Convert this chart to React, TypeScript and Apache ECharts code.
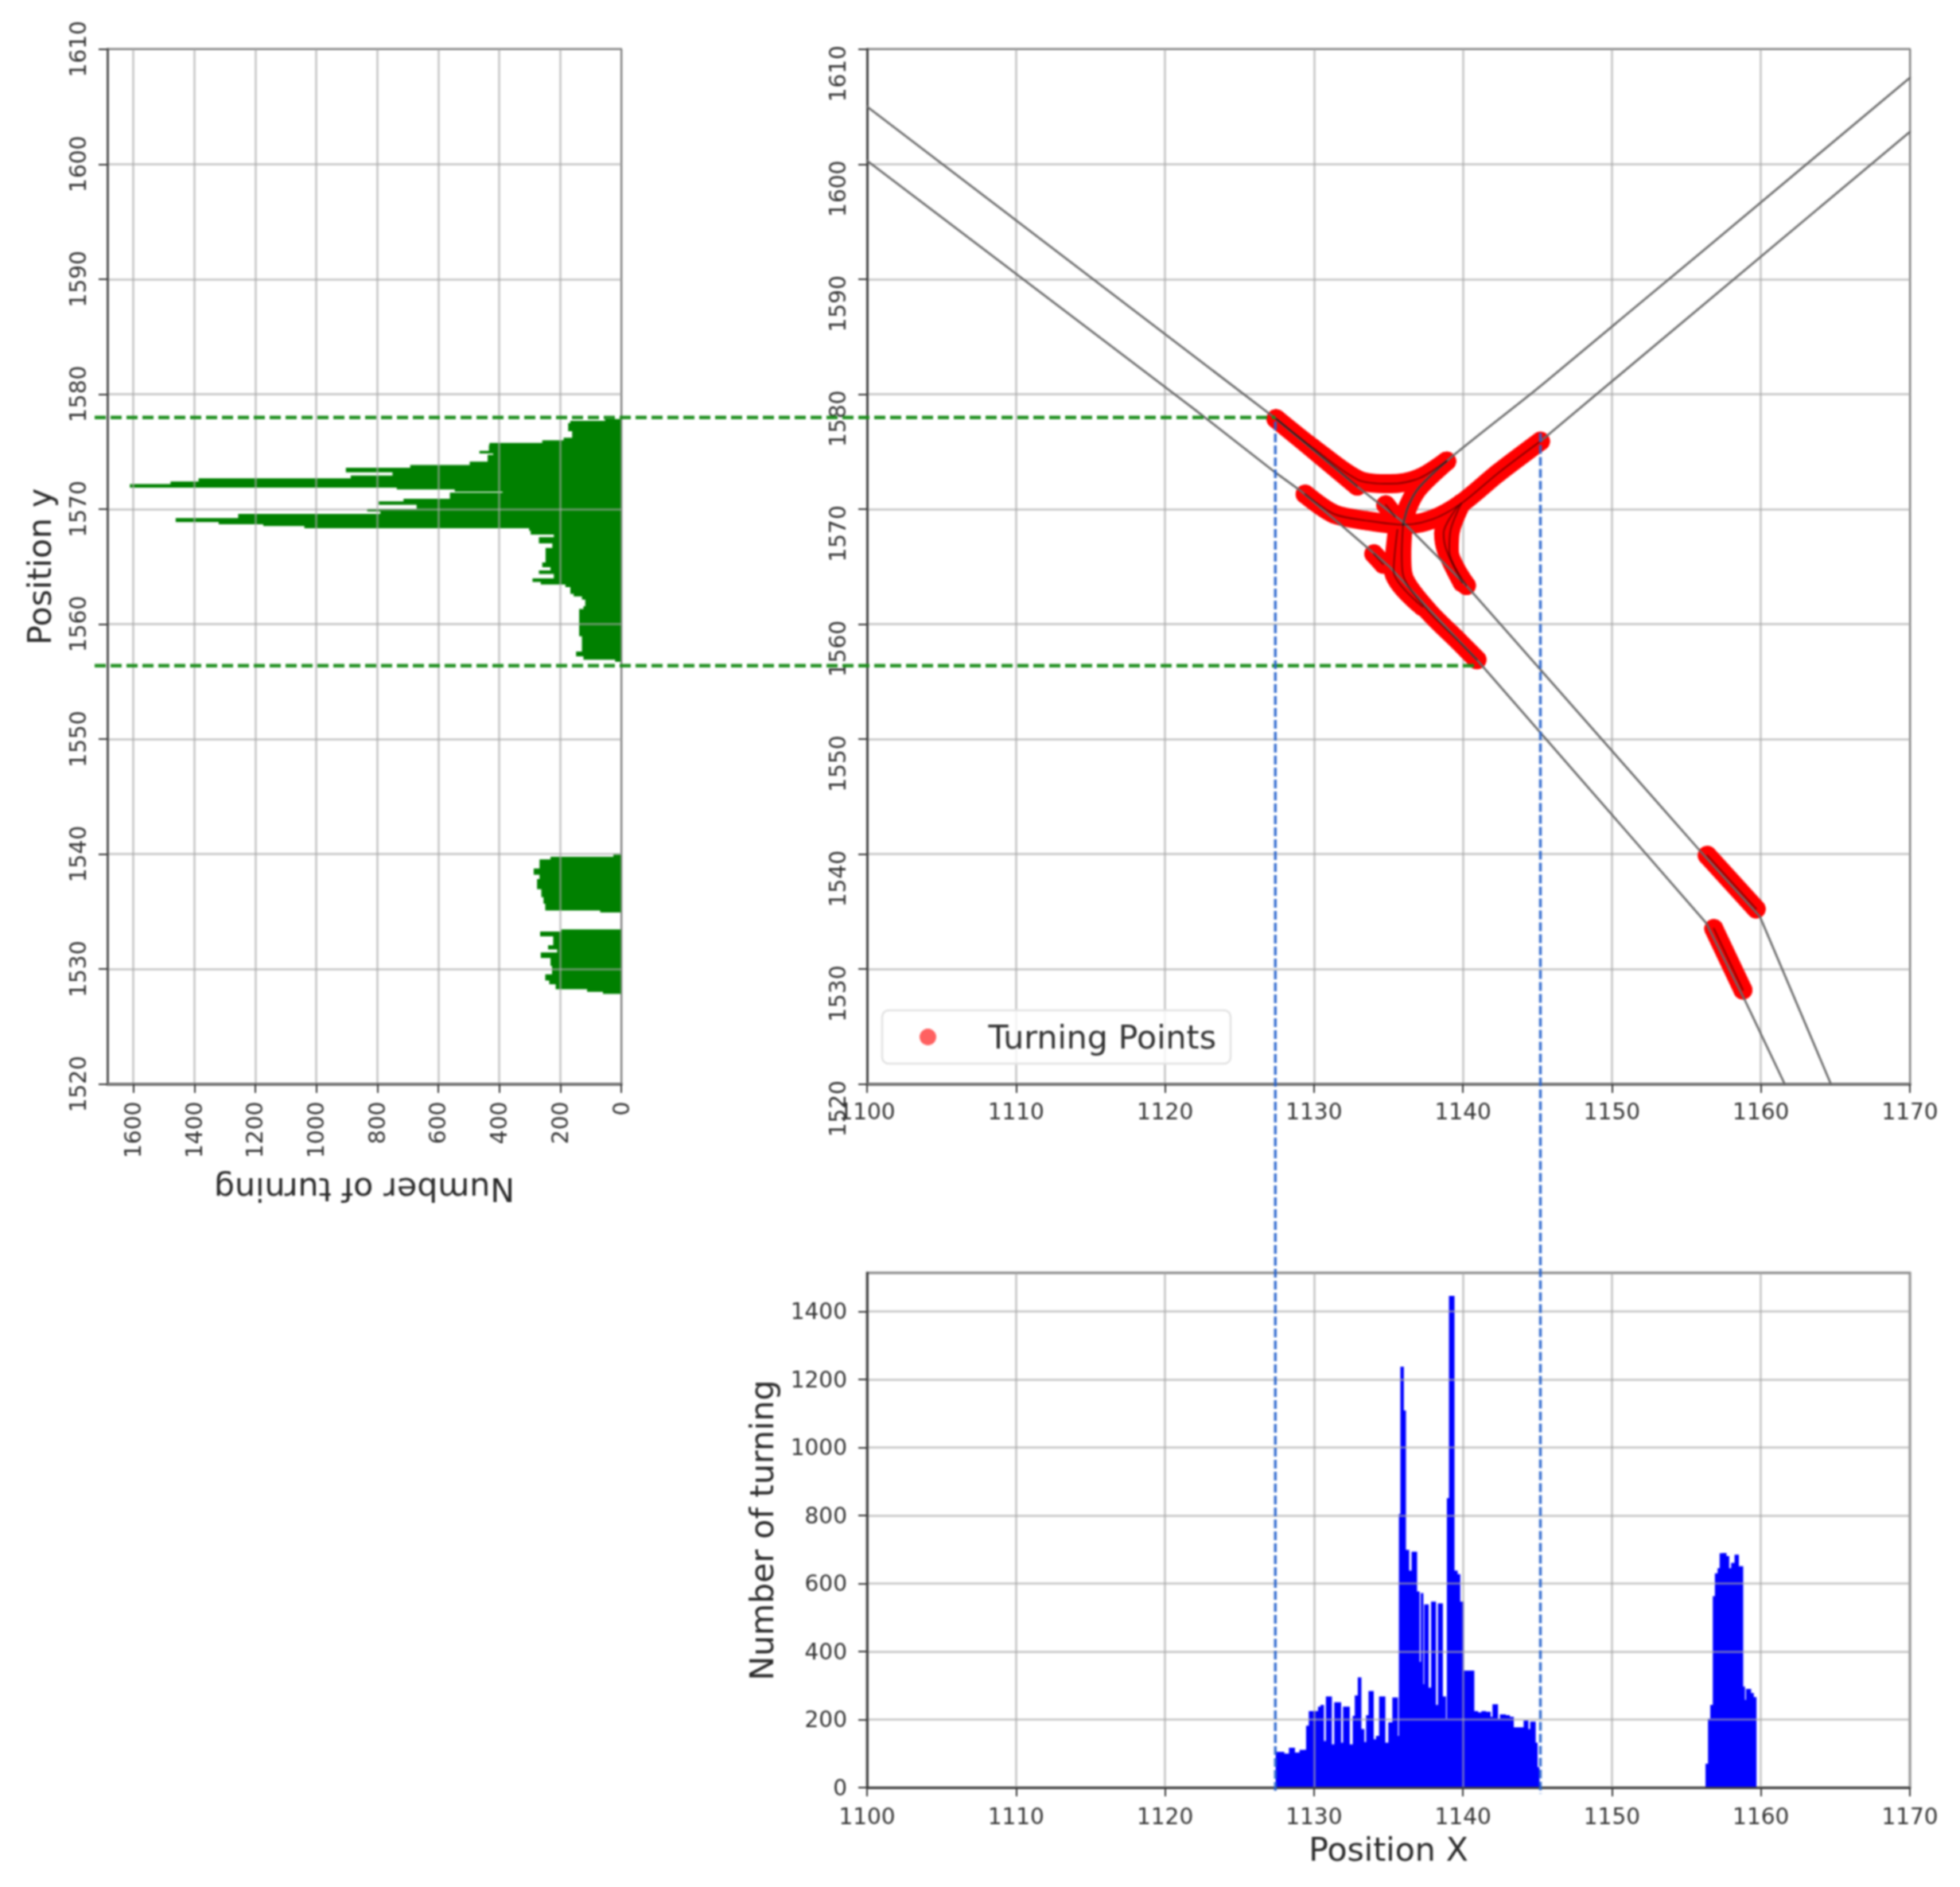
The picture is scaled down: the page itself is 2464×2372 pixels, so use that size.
import React, { useEffect, useRef } from "react";
import * as echarts from "echarts";

const FONT = "DejaVu Sans";

// ---- histogram along X: [bin start, count]; a bin runs to the next start
const blueHistWest: [number, number][] = [
  [1127.43,105],[1127.96,100],[1128.32,117],[1128.67,103],[1129.03,111],[1129.38,111],[1129.47,182],[1129.65,225],[1130.0,225],[1130.27,238],[1130.44,243],[1130.62,137],[1130.8,268],[1131.15,127],[1131.36,251],[1131.77,132],[1131.95,238],[1132.35,127],[1132.6,211],[1132.74,271],[1132.94,324],[1133.13,172],[1133.33,134],[1133.5,213],[1133.66,284],[1133.96,142],[1134.16,152],[1134.37,268],[1134.74,132],[1134.99,192],[1135.26,265],[1135.58,152],[1135.7,805],[1135.8,1238],[1135.98,1109],[1136.12,699],[1136.34,638],[1136.55,694],[1136.87,577],[1137.04,370],[1137.17,572],[1137.29,304],[1137.4,539],[1137.65,294],[1137.86,547],[1138.14,243],[1138.32,542],[1138.6,268],[1138.81,203],[1138.92,851],[1139.06,1446],[1139.38,638],[1139.59,628],[1139.77,547],[1140.0,344],[1140.71,225],[1140.97,221],[1141.24,225],[1141.5,223],[1141.81,208],[1141.98,245],[1142.3,203],[1142.48,215],[1142.83,213],[1143.1,208],[1143.36,177],[1144.07,197],[1144.34,172],[1144.51,194],[1144.83,132],[1144.96,60],[1145.08,10],[1145.17,0],
];
const blueHistEast: [number, number][] = [
  [1156.28,70],[1156.45,203],[1156.6,243],[1156.77,563],[1156.91,630],[1157.09,645],[1157.23,689],[1157.41,690],[1157.64,681],[1157.82,645],[1158.0,661],[1158.23,685],[1158.47,651],[1158.76,297],[1158.88,258],[1159.0,290],[1159.29,278],[1159.47,266],[1159.65,0],
];

// ---- histogram along Y: [bin top, count]; a bin runs down to the next entry
const greenHistNorth: [number, number][] = [
  [1577.83,53],[1577.67,167],[1577.48,174],[1576.84,161],[1576.21,189],[1575.98,259],[1575.75,432],[1575.57,434],[1575.06,465],[1574.9,420],[1574.71,438],[1574.13,497],[1573.83,692],[1573.6,903],[1573.26,750],[1572.91,887],[1572.68,1386],[1572.4,1478],[1572.17,1611],[1571.94,736],[1571.78,546],[1571.59,389],[1571.43,562],[1570.9,714],[1570.67,795],[1570.44,671],[1570.02,833],[1569.86,790],[1569.58,1256],[1569.21,1461],[1568.94,1320],[1568.75,1174],[1568.59,1039],[1568.41,302],[1568.18,297],[1567.85,221],[1567.55,270],[1567.09,226],[1566.63,248],[1565.36,259],[1565.01,232],[1564.67,270],[1564.43,221],[1563.97,291],[1563.74,264],[1563.51,183],[1563.28,167],[1562.7,156],[1562.47,129],[1562.19,118],[1561.55,124],[1561.32,138],[1559.01,129],[1557.62,148],[1557.27,124],[1556.97,20],[1556.79,0],
];
const greenHistMiddle: [number, number][] = [
  [1540.0,26],[1539.77,232],[1539.54,268],[1538.74,287],[1538.28,268],[1537.82,276],[1537.01,262],[1536.32,255],[1535.75,249],[1535.17,69],[1534.99,0],
];
const greenHistSouth: [number, number][] = [
  [1533.45,197],[1533.26,266],[1532.92,223],[1532.07,240],[1531.77,210],[1531.45,264],[1531.03,232],[1530.34,227],[1529.54,249],[1529.08,236],[1528.74,215],[1528.32,112],[1528.09,60],[1527.91,0],
];

// ---- road centre lines
const roadA: [number, number][] = [[1100,1605],[1127.4,1577.9],[1132.96,1571.9],[1135.98,1568.87],[1140.23,1563.35],[1155.9,1540.3],[1159.93,1534.57],[1164.7,1520]];
const roadB: [number, number][] = [[1100,1600.3],[1122,1578.65],[1127.46,1573.13],[1129.06,1571.63],[1131.9,1568.53],[1135.09,1564.96],[1137.57,1561.5],[1140.94,1556.9],[1156.33,1534],[1158.93,1527.28],[1161.6,1520]];
const roadC: [number, number][] = [[1170,1607.5],[1145.55,1581.07],[1138.9,1574.17],[1137.04,1571.86],[1136.33,1570.25],[1135.98,1568.64]];
const roadD: [number, number][] = [[1170,1602.8],[1145.2,1575.9]];

// ---- turning-point tracks
const tracks: [number, number][][] = [
  [[1127.46,1577.85],[1129.95,1575.3],[1132.96,1572.55],[1135.09,1572.2],[1137.04,1572.67],[1138.9,1574.17]],
  [[1127.46,1577.85],[1130.5,1574.6],[1132.9,1572.0]],
  [[1145.2,1575.9],[1142.36,1573.13],[1139.88,1570.48],[1137.93,1569.1],[1135.98,1568.64],[1133.5,1569],[1131.37,1569.56],[1129.41,1571.3]],
  [[1138.9,1574.17],[1137.04,1571.86],[1136.33,1570.25],[1135.98,1568.64]],
  [[1135.98,1568.64],[1135.89,1566.1],[1135.98,1564.27],[1137.57,1561.28],[1139.7,1558.52],[1140.94,1556.9]],
  [[1135.6,1568.2],[1135.35,1564.6],[1137.3,1561.5]],
  [[1139.88,1570.48],[1139.17,1568.18],[1139.08,1566.34],[1140.23,1563.35]],
  [[1139.7,1570.3],[1138.7,1567.9],[1138.9,1566.4],[1139.95,1563.6]],
  [[1134.02,1566.1],[1134.65,1565.2]],
  [[1134.82,1570.37],[1135.44,1569.33]],
  [[1156.4,1539.89],[1159.68,1535.23]],
  [[1156.84,1533.52],[1158.79,1528.18]],
];

// ---- dashed guides
const greenGuideTop: [number, number][] = [[1048.16,1577.96],[1127.4,1577.96]];
const greenGuideBottom: [number, number][] = [[1048.16,1556.37],[1141.07,1556.37]];
const blueGuideWest: [number, number][] = [[1127.41,1577.6],[1127.41,1458.25]];
const blueGuideEast: [number, number][] = [[1145.2,1576.6],[1145.2,1458.25]];

// ---- ticks
const countTicksLeft = [0,200,400,600,800,1000,1200,1400,1600];
const countTicksBottom = [0,200,400,600,800,1000,1200,1400];

const binsOf = (t: [number, number][]) => t.slice(0, -1).map((d, i) => [d[0], t[i + 1][0], d[1]]);

const gridLine = { show: true, lineStyle: { color: "rgba(168,168,168,0.56)", width: 3 } };
const tick = { show: true, length: 11, lineStyle: { color: "#3a3a3a", width: 2 } };
const plain = (v: number) => String(v);
const label = (extra: any = {}) => ({ fontFamily: FONT, fontSize: 28, color: "#333", formatter: plain, ...extra });
const spine = (color: string, width: number) => ({ show: true, onZero: false, lineStyle: { color, width } });
const title = { fontFamily: FONT, fontSize: 41, color: "#2b2b2b" };

const histX = (name: string, data: number[][], color: string, xAxisIndex: number, yAxisIndex: number) => ({
  type: "custom", name, xAxisIndex, yAxisIndex, data, encode: { x: [0, 1], y: 2 },
  renderItem: (_p: any, api: any) => {
    const a = api.coord([api.value(0), 0]);
    const b = api.coord([api.value(1), api.value(2)]);
    return { type: "rect", shape: { x: a[0], y: b[1], width: b[0] - a[0] + 1, height: a[1] - b[1] }, style: { fill: color } };
  },
});
const histY = (name: string, data: number[][], color: string, xAxisIndex: number, yAxisIndex: number) => ({
  type: "custom", name, xAxisIndex, yAxisIndex, data, encode: { y: [0, 1], x: 2 },
  renderItem: (_p: any, api: any) => {
    const a = api.coord([0, api.value(0)]);
    const b = api.coord([api.value(2), api.value(1)]);
    return { type: "rect", shape: { x: b[0], y: a[1], width: a[0] - b[0], height: b[1] - a[1] + 1 }, style: { fill: color } };
  },
});
const poly = (name: string, data: [number, number][], color: string, width: number, smooth = 0) => ({
  type: "line", name, data, xAxisIndex: 0, yAxisIndex: 0, showSymbol: false, symbol: "none", silent: true, smooth,
  lineStyle: { color, width, cap: "round", join: "round" },
});
const guide = (name: string, data: [number, number][], color: string, width: number, dash: number[]) => ({
  type: "line", name, data, xAxisIndex: 3, yAxisIndex: 3, showSymbol: false, symbol: "none", silent: true, z: 6,
  lineStyle: { color, width, type: dash, cap: "butt" },
});

export default function App() {
  const ref = useRef<HTMLDivElement>(null);
  useEffect(() => {
    const chart = echarts.init(ref.current!, undefined, { renderer: "svg" });
    const border = { show: true, borderColor: "#444", borderWidth: 2, backgroundColor: "transparent" };
    chart.setOption({
      animation: false,
      backgroundColor: "#fff",
      textStyle: { fontFamily: FONT },
      grid: [
        { left: 1090, top: 61.7, width: 1311, height: 1301, ...border },
        { left: 135, top: 61.7, width: 646, height: 1301, ...border },
        { left: 1090, top: 1600, width: 1311, height: 647, ...border, borderColor: "#888", borderWidth: 3 },
        // invisible frame on the main plot's scale, wide enough for the guides that run across plots
        { left: 119, top: 61.7, width: 2282, height: 2193.3, show: false },
      ],
      xAxis: [
        { type: "value", gridIndex: 0, min: 1100, max: 1170, interval: 10, z: 3, splitLine: gridLine, axisTick: tick,
          axisLine: spine("#777", 4), axisLabel: label({ margin: 21 }) },
        { type: "value", gridIndex: 1, inverse: true, min: 0, max: 1685, interval: 200, z: 3, splitLine: gridLine,
          axisTick: { ...tick, customValues: countTicksLeft }, axisLine: spine("#777", 4),
          axisLabel: label({ margin: 22, rotate: 90, customValues: countTicksLeft }),
          name: "Number of turning", nameLocation: "middle", nameRotate: 180, nameGap: 112, nameTextStyle: title },
        { type: "value", gridIndex: 2, min: 1100, max: 1170, interval: 10, z: 3, splitLine: gridLine, axisTick: tick,
          axisLine: spine("#333", 2.5), axisLabel: label({ margin: 22 }),
          name: "Position X", nameLocation: "middle", nameGap: 57, nameTextStyle: title },
        { type: "value", gridIndex: 3, min: 1048.16, max: 1170, show: false },
      ],
      yAxis: [
        { type: "value", gridIndex: 0, min: 1520, max: 1610, interval: 10, z: 3, splitLine: gridLine, axisTick: tick,
          axisLine: spine("#444", 3), axisLabel: label({ margin: 23, rotate: 90, align: "center", padding: [0, 62, 0, 0] }) },
        { type: "value", gridIndex: 1, min: 1520, max: 1610, interval: 10, z: 3, splitLine: gridLine, axisTick: tick,
          axisLine: spine("#555", 3), axisLabel: label({ margin: 23, rotate: 90 }),
          name: "Position y", nameLocation: "middle", nameRotate: 90, nameGap: 65, nameTextStyle: title },
        { type: "value", gridIndex: 2, min: 0, max: 1514, interval: 200, z: 3, splitLine: gridLine,
          axisTick: { ...tick, customValues: countTicksBottom }, axisLine: spine("#444", 3),
          axisLabel: label({ margin: 25, customValues: countTicksBottom }),
          name: "Number of turning", nameLocation: "middle", nameRotate: 90, nameGap: 112, nameTextStyle: title },
        { type: "value", gridIndex: 3, min: 1458.25, max: 1610, show: false },
      ],
      legend: {
        data: [{ name: "Turning Points", icon: "circle", itemStyle: { color: "rgba(255,0,0,0.62)", opacity: 1 } }],
        left: 1109, top: 1270, orient: "horizontal", padding: [13, 18, 13, 47], itemWidth: 90, itemHeight: 21,
        borderColor: "#e2e2e2", borderWidth: 2.5, borderRadius: 8, backgroundColor: "rgba(255,255,255,0.8)",
        selectedMode: false, z: 5,
        textStyle: { fontFamily: FONT, fontSize: 41, color: "#333", padding: [0, 0, 6, 26] },
      },
      series: [
        ...tracks.map((t, i) => poly(`track-${i}`, t, "#ff0000", 24, 0.3)),
        { type: "scatter", name: "Turning Points", data: tracks.flat(), xAxisIndex: 0, yAxisIndex: 0, symbolSize: 24,
          itemStyle: { color: "#ff0000" } },
        poly("road-a", roadA, "#686868", 2.6),
        poly("road-b", roadB, "#686868", 2.6),
        poly("road-c", roadC, "#686868", 2.6, 0.3),
        poly("road-d", roadD, "#686868", 2.6),
        ...tracks.map((t, i) => poly(`trace-${i}`, t, "rgba(0,0,0,0.45)", 2, 0.3)),
        histY("green-north", binsOf(greenHistNorth), "#008000", 1, 1),
        histY("green-middle", binsOf(greenHistMiddle), "#008000", 1, 1),
        histY("green-south", binsOf(greenHistSouth), "#008000", 1, 1),
        histX("blue-west", binsOf(blueHistWest), "#0000ff", 2, 2),
        histX("blue-east", binsOf(blueHistEast), "#0000ff", 2, 2),
        guide("green-guide-top", greenGuideTop, "rgba(25,140,25,0.95)", 4.5, [14, 6]),
        guide("green-guide-bottom", greenGuideBottom, "rgba(25,140,25,0.95)", 4.5, [14, 6]),
        guide("blue-guide-west", blueGuideWest, "rgba(40,100,205,0.9)", 3.5, [11, 4]),
        guide("blue-guide-east", blueGuideEast, "rgba(40,100,205,0.9)", 3.5, [11, 4]),
      ],
    });
    return () => chart.dispose();
  }, []);
  return (
    <div
      ref={ref}
      style={{ position: "absolute", left: 0, top: 0, width: 2464, height: 2372, filter: "blur(1px)" }}
    />
  );
}
